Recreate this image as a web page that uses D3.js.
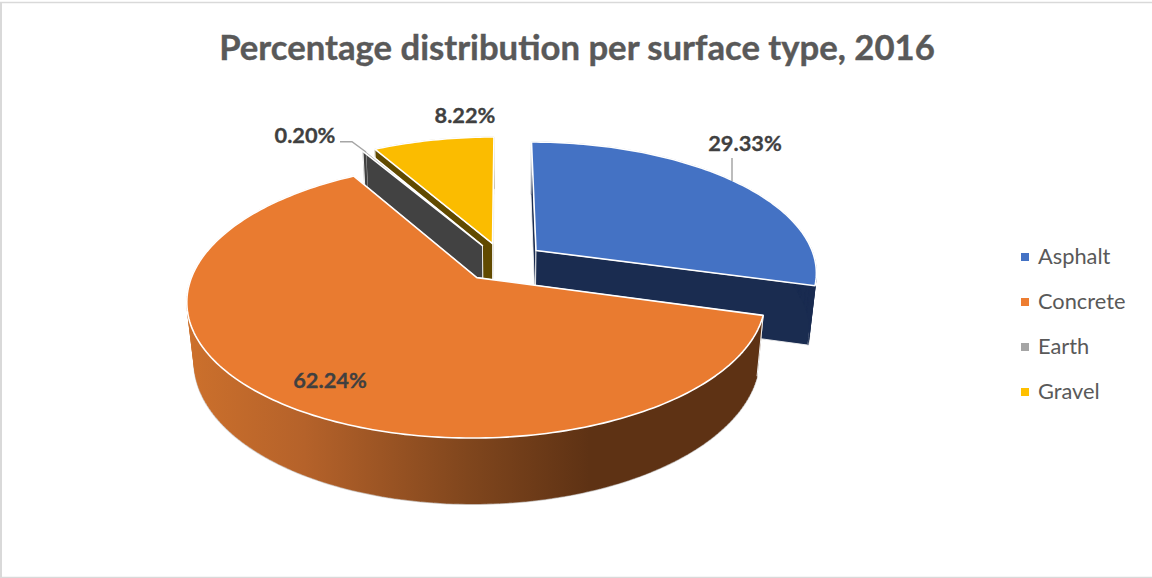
<!DOCTYPE html>
<html>
<head>
<meta charset="utf-8">
<script src="https://cdn.jsdelivr.net/npm/d3@7/dist/d3.min.js"></script>
<style>
html,body{margin:0;padding:0;background:#fff;overflow:hidden}
svg{display:block}
text{font-family:Lato,"Open Sans",sans-serif}
</style>
</head>
<body>
<script>
const categories = ["Asphalt", "Concrete", "Earth", "Gravel"];
const values = [29.33, 62.24, 0.20, 8.22];
const topColors = ["#4472C4", "#E97B30", "#A5A5A5", "#FBBC00"];
const wallColors = ["#1A2C50", "#5E3214", "#424242", "#614A00"];
const titleText = "Percentage distribution per surface type, 2016";
const paintOrder = [3, 2, 0, 1];
const labelCentres = [[745, 144], [330, 381], [305, 136], [465, 116]];

const W = 1152, H = 578;
const svg = d3.select("body").append("svg").attr("width", W).attr("height", H);

/* camera of the tilted pie: plane coordinates (p,q), depth h 0..1 */
const cam = {cx: 503, cy: 262, R: 280, Q: 129.2, k: 0.16, m: 0.0226, H: 59.6};
const explode = 0.15;
const project = (p, q, h) => {
  const w = 1 + cam.k * q + cam.m * h;
  return [cam.cx + cam.R * p / w, cam.cy + (-cam.Q * q + cam.H * h) / w];
};

const slices = d3.pie().sort(null).value(d => d)(values);
const line = d3.line();

const defs = svg.append("defs");
const grad = defs.append("linearGradient").attr("id", "concreteWall")
  .attr("gradientUnits", "userSpaceOnUse").attr("x1", 188).attr("x2", 770).attr("y1", 0).attr("y2", 0);
[[0, "#CC702C"], [0.2, "#B5622A"], [0.48, "#80461D"], [0.69, "#5E3214"], [1, "#5E3214"]]
  .forEach(([o, c]) => grad.append("stop").attr("offset", o).attr("stop-color", c));

/* frame */
const frame = svg.append("g").attr("stroke", "#D9D9D9").attr("fill", "none");
frame.append("path").attr("d", line([[1, 2], [1, 577]])).attr("stroke-width", 2);
frame.append("path").attr("d", line([[0, 2.5], [W, 2.5]])).attr("stroke-width", 1.5);
frame.append("path").attr("d", line([[0, 577.5], [W, 577.5]])).attr("stroke-width", 1.5);

paintOrder.forEach(i => {
  const s = slices[i];
  const mid = (s.startAngle + s.endAngle) / 2;
  const ap = explode * Math.sin(mid), aq = explode * Math.cos(mid);
  const n = Math.max(2, Math.ceil((s.endAngle - s.startAngle) / 0.02));
  const angles = d3.range(n + 1).map(j => s.startAngle + (s.endAngle - s.startAngle) * j / n);
  const rim = h => angles.map(a => project(ap + Math.sin(a), aq + Math.cos(a), h));
  const topRim = rim(0), botRim = rim(1);
  const g = svg.append("g");
  const wallFill = i === 1 ? "url(#concreteWall)" : wallColors[i];

  /* faint outline of the bottom rim, half hidden by the walls painted over it */
  g.append("path").attr("d", line(botRim)).attr("fill", "none").attr("stroke", "#D6D6D6").attr("stroke-width", 2);

  /* straight cut walls */
  [0, n].forEach(e => {
    const poly = [project(ap, aq, 0), topRim[e], botRim[e], project(ap, aq, 1)];
    g.append("path").attr("d", line(poly) + "Z").attr("fill", wallColors[i])
      .attr("stroke", "#F2F2F2").attr("stroke-width", 0.9);
  });

  /* outer curved wall, one union path of consistently wound quads */
  let wall = "";
  for (let j = 0; j < n; j++) {
    let quad = [topRim[j], topRim[j + 1], botRim[j + 1], botRim[j]];
    if (d3.polygonArea(quad) < 0) quad = quad.reverse();
    wall += line(quad) + "Z";
  }
  g.append("path").attr("d", wall).attr("fill", wallFill).attr("stroke", wallFill).attr("stroke-width", 0.4);
  g.append("path").attr("d", line([topRim[0], botRim[0]])).attr("fill", "none")
    .attr("stroke", "#F2F2F2").attr("stroke-width", 1);

  /* top face */
  const top = [project(ap, aq, 0), ...topRim];
  g.append("path").attr("d", line(top) + "Z").attr("fill", topColors[i])
    .attr("stroke", "#fff").attr("stroke-width", 1.6).attr("stroke-linejoin", "round");
});

/* leader lines */
const leaders = svg.append("g").attr("fill", "none").attr("stroke", "#A6A6A6").attr("stroke-width", 1.5);
leaders.append("path").attr("d", line([[340, 141.7], [352, 141.7], [366, 152]]));
leaders.append("path").attr("d", line([[732, 158], [732, 181]]));

/* data labels */
svg.append("g").selectAll("text").data(values).join("text")
  .attr("x", (d, i) => labelCentres[i][0]).attr("y", (d, i) => labelCentres[i][1] + 7)
  .attr("text-anchor", "middle").attr("font-size", 21.8).attr("font-weight", 700)
  .attr("fill", "#404040").attr("stroke", "#404040").attr("stroke-width", 0.3)
  .text(d => d.toFixed(2) + "%");

/* title */
svg.append("text").attr("x", 577).attr("y", 60).attr("text-anchor", "middle")
  .attr("font-size", 34.7).attr("font-weight", 700).attr("fill", "#595959")
  .attr("stroke", "#595959").attr("stroke-width", 0.4).text(titleText);

/* legend */
const legendY = d3.scalePoint().domain(categories).range([257, 392]);
const legend = svg.append("g").selectAll("g").data(categories).join("g")
  .attr("transform", d => `translate(1021,${legendY(d)})`);
legend.append("rect").attr("x", 0).attr("y", -4).attr("width", 8).attr("height", 8)
  .attr("fill", (d, i) => i === 1 ? "#ED7D31" : i === 3 ? "#FFC000" : topColors[i]);
legend.append("text").attr("x", 17).attr("y", 7).attr("font-size", 21.8).attr("fill", "#595959").text(d => d);
</script>
</body>
</html>
